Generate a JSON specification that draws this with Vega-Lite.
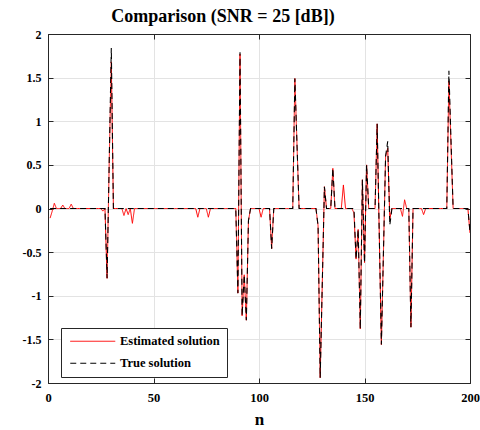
{
 "$schema": "https://vega.github.io/schema/vega-lite/v6.json",
 "width": 422, "height": 349,
 "autosize": "none",
 "padding": {"left": 48, "top": 34, "right": 10, "bottom": 47},
 "background": "white",
 "title": {"text": "Comparison (SNR = 25 [dB])", "font": "Liberation Serif", "fontSize": 18, "fontWeight": "bold", "color": "black", "anchor": "middle", "dx": -36, "offset": 2},
 "config": {"view": {"stroke": "#262626", "strokeWidth": 1}, "font": "Liberation Serif"},
 "data": {"values": [
  {"n":1,"est":-0.11,"tru":0},{"n":2,"est":-0.03,"tru":0},{"n":3,"est":0.06,"tru":0},{"n":4,"est":0,"tru":0},{"n":5,"est":0,"tru":0},
  {"n":6,"est":0,"tru":0},{"n":7,"est":0.04,"tru":0},{"n":8,"est":0,"tru":0},{"n":9,"est":0,"tru":0},{"n":10,"est":0,"tru":0},
  {"n":11,"est":0.05,"tru":0},{"n":12,"est":0,"tru":0},{"n":13,"est":0,"tru":0},{"n":14,"est":0,"tru":0},{"n":15,"est":0,"tru":0},
  {"n":16,"est":0,"tru":0},{"n":17,"est":0,"tru":0},{"n":18,"est":0,"tru":0},{"n":19,"est":0,"tru":0},{"n":20,"est":0,"tru":0},
  {"n":21,"est":0,"tru":0},{"n":22,"est":0,"tru":0},{"n":23,"est":0,"tru":0},{"n":24,"est":0,"tru":0},{"n":25,"est":0,"tru":0},
  {"n":26,"est":-0.03,"tru":0},{"n":27,"est":0,"tru":0},{"n":28,"est":-0.8,"tru":-0.8},{"n":29,"est":0.52,"tru":0.52},{"n":30,"est":1.68,"tru":1.84},
  {"n":31,"est":0,"tru":0},{"n":32,"est":0,"tru":0},{"n":33,"est":0,"tru":0},{"n":34,"est":0,"tru":0},{"n":35,"est":0,"tru":0},
  {"n":36,"est":-0.08,"tru":0},{"n":37,"est":0,"tru":0},{"n":38,"est":-0.07,"tru":0},{"n":39,"est":0,"tru":0},{"n":40,"est":-0.17,"tru":0},
  {"n":41,"est":0,"tru":0},{"n":42,"est":0,"tru":0},{"n":43,"est":0,"tru":0},{"n":44,"est":0,"tru":0},{"n":45,"est":0,"tru":0},
  {"n":46,"est":0,"tru":0},{"n":47,"est":0,"tru":0},{"n":48,"est":0,"tru":0},{"n":49,"est":0,"tru":0},{"n":50,"est":0,"tru":0},
  {"n":51,"est":0,"tru":0},{"n":52,"est":0,"tru":0},{"n":53,"est":0,"tru":0},{"n":54,"est":0,"tru":0},{"n":55,"est":0,"tru":0},
  {"n":56,"est":0,"tru":0},{"n":57,"est":0,"tru":0},{"n":58,"est":0,"tru":0},{"n":59,"est":0,"tru":0},{"n":60,"est":0,"tru":0},
  {"n":61,"est":0,"tru":0},{"n":62,"est":0,"tru":0},{"n":63,"est":0,"tru":0},{"n":64,"est":0,"tru":0},{"n":65,"est":0,"tru":0},
  {"n":66,"est":0,"tru":0},{"n":67,"est":0,"tru":0},{"n":68,"est":0,"tru":0},{"n":69,"est":0,"tru":0},{"n":70,"est":0,"tru":0},
  {"n":71,"est":-0.1,"tru":0},{"n":72,"est":0,"tru":0},{"n":73,"est":0,"tru":0},{"n":74,"est":0,"tru":0},{"n":75,"est":0,"tru":0},
  {"n":76,"est":-0.1,"tru":0},{"n":77,"est":0,"tru":0},{"n":78,"est":0,"tru":0},{"n":79,"est":0,"tru":0},{"n":80,"est":0,"tru":0},
  {"n":81,"est":0,"tru":0},{"n":82,"est":0,"tru":0},{"n":83,"est":0,"tru":0},{"n":84,"est":0,"tru":0},{"n":85,"est":0,"tru":0},
  {"n":86,"est":0,"tru":0},{"n":87,"est":0,"tru":0},{"n":88,"est":0,"tru":0},{"n":89,"est":0,"tru":0},{"n":90,"est":-0.97,"tru":-0.97},
  {"n":91,"est":1.77,"tru":1.79},{"n":92,"est":-1.23,"tru":-1.23},{"n":93,"est":-0.76,"tru":-0.76},{"n":94,"est":-1.28,"tru":-1.28},{"n":95,"est":-0.14,"tru":-0.14},
  {"n":96,"est":0,"tru":0},{"n":97,"est":0,"tru":0},{"n":98,"est":0,"tru":0},{"n":99,"est":0,"tru":0},{"n":100,"est":0,"tru":0},
  {"n":101,"est":-0.1,"tru":0},{"n":102,"est":0,"tru":0},{"n":103,"est":0,"tru":0},{"n":104,"est":0,"tru":0},{"n":105,"est":0,"tru":0},
  {"n":106,"est":-0.46,"tru":-0.46},{"n":107,"est":0,"tru":0},{"n":108,"est":0,"tru":0},{"n":109,"est":0,"tru":0},{"n":110,"est":0,"tru":0},
  {"n":111,"est":0,"tru":0},{"n":112,"est":0,"tru":0},{"n":113,"est":0,"tru":0},{"n":114,"est":0,"tru":0},{"n":115,"est":0,"tru":0},
  {"n":116,"est":0,"tru":0},{"n":117,"est":1.49,"tru":1.49},{"n":118,"est":0.74,"tru":0.74},{"n":119,"est":0,"tru":0},{"n":120,"est":0,"tru":0},
  {"n":121,"est":0,"tru":0},{"n":122,"est":0,"tru":0},{"n":123,"est":0,"tru":0},{"n":124,"est":0,"tru":0},{"n":125,"est":0,"tru":0},
  {"n":126,"est":0,"tru":0},{"n":127,"est":0,"tru":0},{"n":128,"est":-0.2,"tru":-0.2},{"n":129,"est":-1.94,"tru":-1.94},{"n":130,"est":-0.85,"tru":-0.85},
  {"n":131,"est":0.25,"tru":0.25},{"n":132,"est":0,"tru":0},{"n":133,"est":0,"tru":0},{"n":134,"est":0,"tru":0},{"n":135,"est":0.46,"tru":0.46},
  {"n":136,"est":0,"tru":0},{"n":137,"est":0,"tru":0},{"n":138,"est":0,"tru":0},{"n":139,"est":0,"tru":0},{"n":140,"est":0.27,"tru":0},
  {"n":141,"est":0,"tru":0},{"n":142,"est":0,"tru":0},{"n":143,"est":0,"tru":0},{"n":144,"est":0,"tru":0},{"n":145,"est":-0.05,"tru":0},
  {"n":146,"est":-0.58,"tru":-0.58},{"n":147,"est":-0.24,"tru":-0.24},{"n":148,"est":-1.38,"tru":-1.38},{"n":149,"est":0.33,"tru":0.33},{"n":150,"est":-0.62,"tru":-0.62},
  {"n":151,"est":0.5,"tru":0.5},{"n":152,"est":0,"tru":0},{"n":153,"est":0,"tru":0},{"n":154,"est":0,"tru":0},{"n":155,"est":0,"tru":0},
  {"n":156,"est":0.97,"tru":0.97},{"n":157,"est":-0.3,"tru":-0.3},{"n":158,"est":-1.56,"tru":-1.56},{"n":159,"est":-0.48,"tru":-0.48},{"n":160,"est":0.6,"tru":0.6},
  {"n":161,"est":0.69,"tru":0.77},{"n":162,"est":-0.12,"tru":-0.19},{"n":163,"est":0,"tru":0},{"n":164,"est":0,"tru":0},{"n":165,"est":0,"tru":0},
  {"n":166,"est":0,"tru":0},{"n":167,"est":0,"tru":0},{"n":168,"est":-0.09,"tru":0},{"n":169,"est":0.1,"tru":0},{"n":170,"est":0,"tru":0},
  {"n":171,"est":0,"tru":0},{"n":172,"est":-1.36,"tru":-1.36},{"n":173,"est":0,"tru":0},{"n":174,"est":0,"tru":0},{"n":175,"est":0,"tru":0},
  {"n":176,"est":0,"tru":0},{"n":177,"est":0,"tru":0},{"n":178,"est":-0.07,"tru":0},{"n":179,"est":0,"tru":0},{"n":180,"est":0,"tru":0},
  {"n":181,"est":0,"tru":0},{"n":182,"est":0,"tru":0},{"n":183,"est":0,"tru":0},{"n":184,"est":0,"tru":0},{"n":185,"est":0,"tru":0},
  {"n":186,"est":0,"tru":0},{"n":187,"est":0,"tru":0},{"n":188,"est":0,"tru":0},{"n":189,"est":0,"tru":0},{"n":190,"est":1.46,"tru":1.58},
  {"n":191,"est":0.72,"tru":0.78},{"n":192,"est":0,"tru":0},{"n":193,"est":0,"tru":0},{"n":194,"est":0,"tru":0},{"n":195,"est":0,"tru":0},
  {"n":196,"est":0,"tru":0},{"n":197,"est":0,"tru":0},{"n":198,"est":0,"tru":0},{"n":199,"est":0,"tru":0},{"n":200,"est":-0.28,"tru":-0.27}
 ]},
 "layer": [
  {
   "mark": {"type": "line", "strokeWidth": 1, "clip": true},
   "encoding": {
    "x": {"field": "n", "type": "quantitative", "scale": {"domain": [0, 200], "nice": false, "zero": false},
          "axis": {"orient": "bottom", "values": [0, 50, 100, 150, 200], "grid": true, "gridColor": "#e3e3e3", "gridWidth": 1, "labelFlush": false,
                   "tickSize": -5, "tickColor": "#262626", "domainColor": "#262626", "labelFont": "Liberation Serif", "labelFontWeight": "bold",
                   "labelFontSize": 12.5, "labelColor": "black", "labelPadding": 13, "title": "n", "titleFont": "Liberation Serif",
                   "titleFontSize": 17, "titleFontWeight": "bold", "titleColor": "black", "titlePadding": 8}},
    "y": {"field": "est", "type": "quantitative", "scale": {"domain": [-2, 2], "nice": false, "zero": false},
          "axis": {"orient": "left", "values": [-2, -1.5, -1, -0.5, 0, 0.5, 1, 1.5, 2], "labelExpr": "'' + datum.value", "grid": true, "gridColor": "#e3e3e3",
                   "tickSize": -5, "tickColor": "#262626", "domainColor": "#262626", "labelFont": "Liberation Serif", "labelFontWeight": "bold",
                   "labelFontSize": 12, "labelColor": "black", "labelPadding": 12, "labelFlush": false, "title": null}},
    "color": {"datum": "Estimated solution", "scale": {"domain": ["Estimated solution", "True solution"], "range": ["#ff0000", "#000000"]},
              "legend": {"title": null, "orient": "none", "legendX": 13, "legendY": 294, "symbolType": "M-5,0H5", "symbolSize": 81, "symbolOffset": 18.5,
                         "symbolStrokeWidth": 1, "labelFont": "Liberation Serif", "labelFontSize": 12.5, "labelFontWeight": "bold", "labelColor": "black",
                         "labelExpr": "datum.label + '\u00a0\u00a0\u00a0\u00a0\u00a0\u00a0\u00a0\u00a0\u00a0\u00a0\u00a0\u00a0\u00a0\u00a0\u00a0\u00a0\u00a0\u00a0\u00a0\u00a0\u00a0\u00a0\u00a0\u00a0\u00a0\u00a0\u00a0\u00a0'",
                         "labelLimit": 400, "strokeColor": "#262626", "fillColor": "white", "padding": 7, "labelOffset": 21, "rowPadding": 9, "cornerRadius": 0}},
    "strokeDash": {"datum": "Estimated solution", "scale": {"domain": ["Estimated solution", "True solution"], "range": [[1, 0], [6, 4]]},
              "legend": {"title": null, "orient": "none", "legendX": 13, "legendY": 294, "symbolType": "M-5,0H5", "symbolSize": 81, "symbolOffset": 18.5,
                         "symbolStrokeWidth": 1, "labelFont": "Liberation Serif", "labelFontSize": 12.5, "labelFontWeight": "bold", "labelColor": "black",
                         "labelExpr": "datum.label + '\u00a0\u00a0\u00a0\u00a0\u00a0\u00a0\u00a0\u00a0\u00a0\u00a0\u00a0\u00a0\u00a0\u00a0\u00a0\u00a0\u00a0\u00a0\u00a0\u00a0\u00a0\u00a0\u00a0\u00a0\u00a0\u00a0\u00a0\u00a0'",
                         "labelLimit": 400, "strokeColor": "#262626", "fillColor": "white", "padding": 7, "labelOffset": 21, "rowPadding": 9, "cornerRadius": 0}}
   }
  },
  {
   "mark": {"type": "line", "strokeWidth": 1.1, "clip": true},
   "encoding": {
    "x": {"field": "n", "type": "quantitative", "scale": {"domain": [0, 200], "nice": false, "zero": false},
          "axis": {"orient": "top", "values": [0, 50, 100, 150, 200], "grid": false, "labels": false, "tickSize": -5, "tickColor": "#262626", "domainColor": "#262626", "title": null}},
    "y": {"field": "tru", "type": "quantitative", "scale": {"domain": [-2, 2], "nice": false, "zero": false},
          "axis": {"orient": "right", "values": [-2, -1.5, -1, -0.5, 0, 0.5, 1, 1.5, 2], "grid": false, "labels": false, "tickSize": -5, "tickColor": "#262626", "domainColor": "#262626", "title": null}},
    "color": {"datum": "True solution"},
    "strokeDash": {"datum": "True solution"}
   }
  }
 ],
 "resolve": {"axis": {"x": "independent", "y": "independent"}}
}
